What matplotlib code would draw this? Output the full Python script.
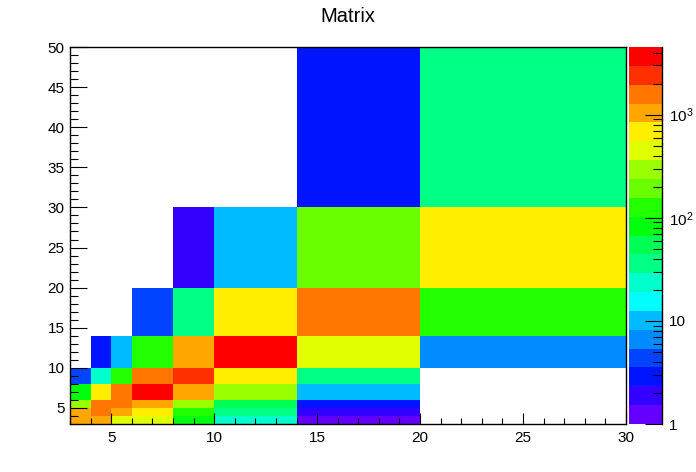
import colorsys
import numpy as np
import matplotlib
matplotlib.use("Agg")
import matplotlib.pyplot as plt
from matplotlib.colors import ListedColormap, LogNorm
from matplotlib.ticker import FixedLocator, NullFormatter

plt.rcParams['font.family'] = ['Liberation Sans', 'DejaVu Sans']
plt.rcParams['mathtext.fontset'] = 'custom'
plt.rcParams['mathtext.rm'] = 'Liberation Sans'
plt.rcParams['mathtext.default'] = 'regular'

# ---- data ----
title = "Matrix"
x_edges = [3, 4, 5, 6, 8, 10, 14, 20, 30]
y_edges = [3, 4, 5, 6, 8, 10, 14, 20, 30, 50]
# rows: y bins (bottom to top), columns: x bins (left to right); 0 = empty
row_y3_4   = [1040, 1040, 448, 448, 83, 23.5, 1.2, 0]
row_y4_5   = [1040, 1580, 1040, 682, 127, 35.8, 1.9, 0]
row_y5_6   = [294, 1580, 1580, 1040, 294, 54.6, 2.9, 0]
row_y6_8   = [83, 682, 1580, 3670, 1040, 294, 10.1, 0]
row_y8_10  = [4.4, 23.5, 127, 1580, 2410, 682, 35.8, 0]
row_y10_14 = [0, 2.9, 10.1, 127, 1040, 3670, 448, 6.6]
row_y14_20 = [0, 0, 0, 4.4, 35.8, 682, 1580, 127]
row_y20_30 = [0, 0, 0, 0, 1.9, 10.1, 193, 682]
row_y30_50 = [0, 0, 0, 0, 0, 0, 2.9, 35.8]
z_min, z_max = 1, 4530
x_ticks = [5, 10, 15, 20, 25, 30]
y_ticks = [5, 10, 15, 20, 25, 30, 35, 40, 45, 50]
cb_major = [1, 10, 100, 1000]
cb_labels = ['1', '10', '$10^{2}$', '$10^{3}$']

# ---- ROOT "pretty" palette with 20 contour levels ----
ncont = 20
pal = []
for i in range(49):
    hue = 280 - (i + 1) * 5.6
    pal.append(colorsys.hls_to_rgb(hue / 360.0, 0.5, 1.0))
pal.append((1.0, 0.0, 0.0))
cols = [pal[int((j + 0.99) * 50 / ncont)] for j in range(ncont)]
cmap = ListedColormap(cols)
cmap.set_bad((1, 1, 1, 0))

Z = np.array([row_y3_4, row_y4_5, row_y5_6, row_y6_8, row_y8_10,
              row_y10_14, row_y14_20, row_y20_30, row_y30_50], dtype=float)
Zm = np.ma.masked_less_equal(Z, 0)

fig = plt.figure(figsize=(6.96, 4.72), dpi=100)
ax = fig.add_axes([70 / 696, 48 / 472, 556 / 696, 377 / 472])
norm = LogNorm(vmin=z_min, vmax=z_max)
mesh = ax.pcolormesh(x_edges, y_edges, Zm, cmap=cmap, norm=norm)
ax.set_xlim(x_edges[0], x_edges[-1])
ax.set_ylim(y_edges[0], y_edges[-1])

ax.xaxis.set_major_locator(FixedLocator(x_ticks))
ax.xaxis.set_minor_locator(FixedLocator(np.arange(3, 31, 1)))
ax.yaxis.set_major_locator(FixedLocator(y_ticks))
ax.yaxis.set_minor_locator(FixedLocator(np.arange(3, 51, 1)))
ax.tick_params(axis='both', which='both', direction='in', top=False, right=False,
               width=0.8, colors='black', labelsize=11)
ax.tick_params(axis='y', which='major', length=12, pad=4)
ax.tick_params(axis='y', which='minor', length=6)
ax.tick_params(axis='x', which='major', length=8.1, pad=5)
ax.tick_params(axis='x', which='minor', length=4)
for s in ax.spines.values():
    s.set_linewidth(1.0)

cax = fig.add_axes([629 / 696, 48 / 472, 33 / 696, 377 / 472])
cb = fig.colorbar(mesh, cax=cax)
cb.outline.set_visible(False)
cax.plot([1, 1], [0, 1], transform=cax.transAxes, color='black', lw=1.0, clip_on=False)
cax.yaxis.set_ticks_position('right')
cax.yaxis.set_major_locator(FixedLocator(cb_major))
cax.yaxis.set_ticklabels(cb_labels)
minors = [m * 10 ** k for k in range(4) for m in range(2, 10) if m * 10 ** k <= z_max]
cax.yaxis.set_minor_locator(FixedLocator(minors))
cax.yaxis.set_minor_formatter(NullFormatter())
cax.tick_params(axis='y', which='both', direction='in', width=0.8, labelsize=11)
cax.tick_params(axis='y', which='major', length=12, pad=5)
cax.tick_params(axis='y', which='minor', length=6.5)

fig.text(0.5, 1 - 17 / 472, title, ha='center', va='center', fontsize=14.5)

fig.savefig("out.png", dpi=100)
